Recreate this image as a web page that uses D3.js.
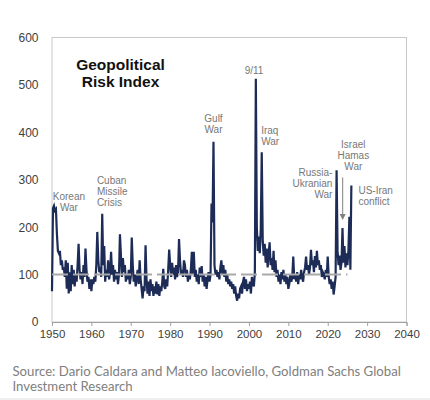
<!DOCTYPE html>
<html><head><meta charset="utf-8">
<script src="https://cdn.jsdelivr.net/npm/d3@7"></script>
<style>
html,body{margin:0;padding:0;background:#fff;}
svg{display:block;}
</style></head>
<body>
<svg id="c" width="430" height="400"></svg>
<script>
// Quarterly Geopolitical Risk Index values (start of each decade, step 0.25 yr)
const gpr1950s = [65,240,245,235, 238,185,150,145, 150,120,130,110, 115,95,130,70, 125,60,105,65,
                  120,80,110,75, 100,85,120,165, 110,90,105,80, 120,95,155,110, 85,95,70,90];
const gpr1960s = [65,90,80,95, 85,120,190,130, 105,115,95,228, 120,160,85,110, 95,130,90,105,
                  148,100,120,85, 110,90,105,80, 100,185,140,95, 135,105,120,85, 100,90,110,80];
const gpr1970s = [95,178,120,85, 100,75,95,110, 80,130,90,70, 50,75,65,162, 90,60,85,55,
                  90,65,80,55, 75,60,85,58, 80,55,75,65, 85,112,75,70, 90,75,110,153];
const gpr1980s = [120,95,125,100, 115,90,120,95, 105,175,130,100, 110,95,130,120, 95,110,85,100,
                  90,110,148,100, 148,95,110,85, 100,80,115,95, 118,85,100,75, 95,70,90,105];
const gpr1990s = [85,100,250,210, 380,120,100,110, 95,105,90,115, 130,100,120,95, 110,85,100,80,
                  90,75,85,70, 80,60,75,55, 45,60,50,70, 75,60,85,95, 70,90,65,80];
const gpr2000s = [70,85,60,95, 80,75,105,513, 200,150,180,145, 195,358,170,140, 165,125,155,115,
                  145,168,120,135, 110,150,105,130, 95,110,85,100, 80,105,90,110, 85,100,80,95];
const gpr2010s = [70,80,100,85, 95,138,90,100, 85,105,80,100, 90,110,95,85, 105,115,138,110,
                  120,100,115,152, 120,130,105,139, 115,150,120,130, 110,120,95,105, 100,90,110,95];
const gpr2020s = [138,95,80,90, 70,85,58,75, 95,320,150,120, 140,110,125,198, 125,160,115,145,
                  120,150,222,110, 288];
const decadeStarts = [1950,1960,1970,1980,1990,2000,2010,2020];
const decadeSeries = [gpr1950s,gpr1960s,gpr1970s,gpr1980s,gpr1990s,gpr2000s,gpr2010s,gpr2020s];
const yTicks = [0,100,200,300,400,500,600];
const xTicks = [1950,1960,1970,1980,1990,2000,2010,2020,2030,2040];
const avgLevel = 100, avgFrom = 1950, avgTo = 2025;
const titleLines = ["Geopolitical","Risk Index"];
const annotations = [
  {lines:["Korean","War"], year:1954.3, value:257, anchor:"middle"},
  {lines:["Cuban","Missile","Crisis"], year:1961.4, value:290, anchor:"start"},
  {lines:["Gulf","War"], year:1991.0, value:422, anchor:"middle"},
  {lines:["9/11"], year:2001.3, value:524, anchor:"middle"},
  {lines:["Iraq","War"], year:2003.1, value:397, anchor:"start"},
  {lines:["Russia-","Ukranian","War"], year:2021.2, value:308, anchor:"end"},
  {lines:["Israel","Hamas","War"], year:2026.5, value:366, anchor:"middle"},
  {lines:["US-Iran","conflict"], year:2027.8, value:270, anchor:"start"}
];
const arrowInfo = {year:2023.8, fromValue:305, toValue:215};
const sourceLines = ["Source: Dario Caldara and Matteo Iacoviello, Goldman Sachs Global","Investment Research"];

const data = [];
decadeSeries.forEach((arr,k)=>arr.forEach((v,i)=>data.push({t:decadeStarts[k]+i*0.25, v})));

const svg = d3.select("#c");
const L=52, R=406.5, T=37.5, B=322;
const x = d3.scaleLinear().domain([1950,2040]).range([L,R]);
const y = d3.scaleLinear().domain([0,600]).range([B,T]);

// frame
svg.append("rect").attr("x",L).attr("y",T).attr("width",R-L).attr("height",B-T)
  .attr("fill","none").attr("stroke","#c8c8c8").attr("stroke-width",1);

// x axis
const xa = svg.append("g").attr("transform",`translate(0,${B})`)
  .call(d3.axisBottom(x).tickValues(xTicks).tickFormat(d3.format("d")).tickSize(4).tickPadding(4));
xa.select(".domain").attr("stroke","#a0a0a0");
xa.selectAll(".tick line").attr("stroke","#a0a0a0");
xa.selectAll("text").attr("font-family","Liberation Sans, Arial, sans-serif").attr("font-size","11.5px").attr("fill","#404040");

// y labels
const ya = svg.append("g").attr("transform",`translate(${L},0)`)
  .call(d3.axisLeft(y).tickValues(yTicks).tickSize(0).tickPadding(13.5));
ya.select(".domain").remove();
ya.selectAll("text").attr("font-family","Liberation Sans, Arial, sans-serif").attr("font-size","12px").attr("fill","#404040");

// series line
svg.append("path").datum(data)
  .attr("d", d3.line().x(d=>x(d.t)).y(d=>y(d.v)))
  .attr("fill","none").attr("stroke","#1d2b57").attr("stroke-width",2.2).attr("stroke-linejoin","miter");

// average line (dashed, on top)
svg.append("line").attr("x1",x(avgFrom)).attr("x2",x(avgTo)).attr("y1",y(avgLevel)).attr("y2",y(avgLevel))
  .attr("stroke","#a9a9a9").attr("stroke-width",2).attr("stroke-dasharray","16,5");

// title
const tt = svg.append("text").attr("text-anchor","middle")
  .attr("font-family","Liberation Sans, Arial, sans-serif").attr("font-weight","bold").attr("font-size","15.5px").attr("fill","#111");
titleLines.forEach((s,i)=>tt.append("tspan").attr("x",x(1967.4)).attr("y",y(531)+i*17).text(s));

// annotations
annotations.forEach(a=>{
  const t = svg.append("text").attr("text-anchor",a.anchor)
    .attr("font-family","Liberation Sans, Arial, sans-serif").attr("font-size","10px").attr("fill","#787878");
  a.lines.forEach((s,i)=>t.append("tspan").attr("x",x(a.year)).attr("y",y(a.value)+i*11).text(s));
});

// arrow
const ax = x(arrowInfo.year);
svg.append("line").attr("x1",ax).attr("x2",ax).attr("y1",y(arrowInfo.fromValue)).attr("y2",y(arrowInfo.toValue)-5)
  .attr("stroke","#808080").attr("stroke-width",1);
svg.append("path")
  .attr("d",`M${ax-3},${y(arrowInfo.toValue)-6} L${ax+3},${y(arrowInfo.toValue)-6} L${ax},${y(arrowInfo.toValue)} Z`)
  .attr("fill","#808080");

// source
const st = svg.append("text").attr("font-family","Lato, sans-serif").attr("font-size","13.2px").attr("fill","#808080");
sourceLines.forEach((s,i)=>st.append("tspan").attr("x",12.5).attr("y",376+i*14.5).text(s));

// bottom rule
svg.append("line").attr("x1",0).attr("x2",430).attr("y1",399).attr("y2",399).attr("stroke","#e0e0e0");
</script>
</body></html>
